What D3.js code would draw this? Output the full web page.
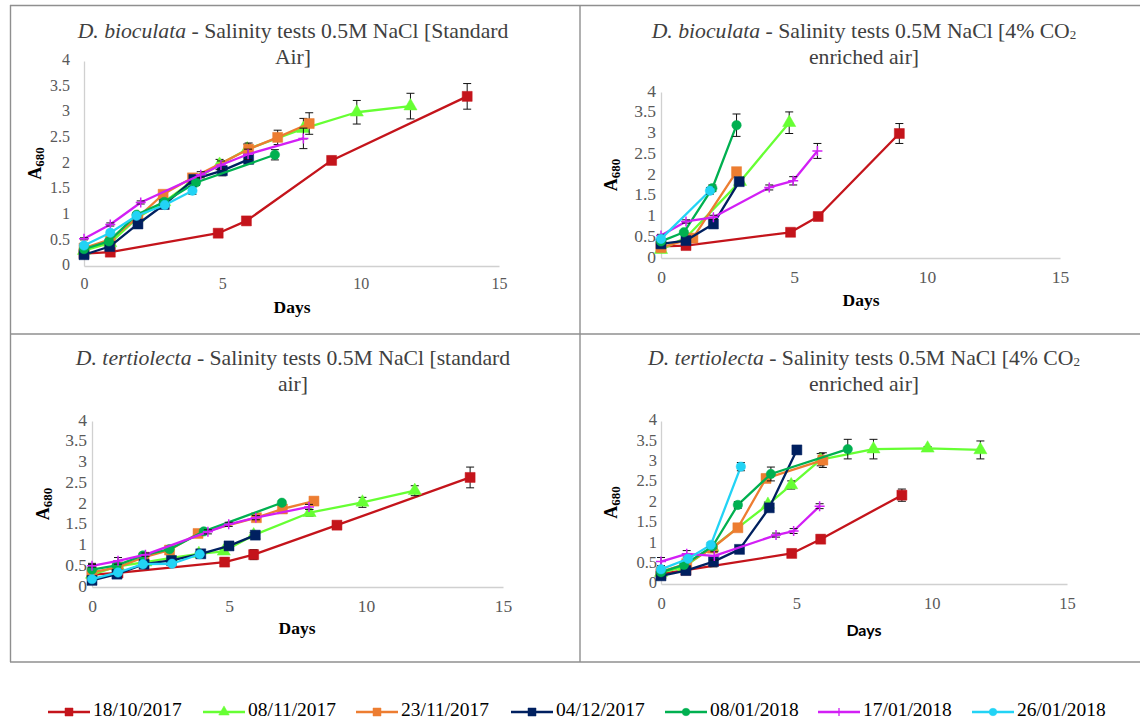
<!DOCTYPE html>
<html><head><meta charset="utf-8">
<script src="https://cdn.jsdelivr.net/npm/d3@7"></script>
<style>body{margin:0;background:#fff}</style>
</head><body><svg id="c" width="1140" height="722"></svg>
<script>
// ---------- DATA ----------
const seriesNames = ["18/10/2017","08/11/2017","23/11/2017","04/12/2017","08/01/2018","17/01/2018","26/01/2018"];
const xTicks = [0, 5, 10, 15];
const yTicks = [0, 0.5, 1, 1.5, 2, 2.5, 3, 3.5, 4];
const xAxisTitle = "Days";
const titleSpecies = ["D. bioculata", "D. bioculata", "D. tertiolecta", "D. tertiolecta"];
const titleLine1 = [" - Salinity tests 0.5M NaCl [Standard", " - Salinity tests 0.5M NaCl [4% CO", " - Salinity tests 0.5M NaCl [standard", " - Salinity tests 0.5M NaCl [4% CO"];
const titleSub = ["", "2", "", "2"];
const titleLine2 = ["Air]", "enriched air]", "air]", "enriched air]"];

// Panel 1: D. bioculata, standard air
const bioStdDays = [
  [0,0.95,4.85,5.87,8.95,13.85],
  [0,0.95,1.95,2.9,3.9,4.9,5.9,7.93,9.86,11.8],
  [0,0.95,1.95,2.86,3.92,5.95,7.0,8.14],
  [0,0.93,1.95,2.9,3.97,5.0,5.95],
  [0,0.9,1.9,2.9,4.05,6.9],
  [0,0.95,2.05,4.22,4.95,5.93,7.93],
  [0,0.95,1.9,2.92,3.92]];
const bioStdA680 = [
  [0.24,0.27,0.64,0.88,2.06,3.31],
  [0.3,0.45,0.95,1.25,1.65,1.98,2.28,2.68,3.0,3.12],
  [0.35,0.52,0.95,1.4,1.72,2.28,2.51,2.78],
  [0.22,0.38,0.82,1.2,1.69,1.86,2.08],
  [0.33,0.48,1.0,1.25,1.63,2.17],
  [0.53,0.81,1.24,1.78,1.97,2.18,2.49],
  [0.4,0.65,0.98,1.19,1.47]];
const bioStdErr = [
  [0.03,0.03,0.04,0.04,0.08,0.25],
  [0.03,0.03,0.04,0.05,0.06,0.1,0.1,0.2,0.23,0.25],
  [0.03,0.03,0.04,0.05,0.05,0.12,0.14,0.21],
  [0.02,0.03,0.04,0.05,0.05,0.1,0.06],
  [0.02,0.03,0.04,0.05,0.06,0.1],
  [0.02,0.03,0.03,0.06,0.08,0.1,0.2],
  [0.02,0.03,0.04,0.05,0.07]];

// Panel 2: D. bioculata, 4% CO2 enriched air
const bioCO2Days = [
  [0,0.94,4.87,5.91,8.96],
  [0,0.95,2.97,4.82],
  [0,1.2,2.84],
  [0,0.94,1.97,2.94],
  [0,0.86,1.93,2.84],
  [0,0.94,1.97,4.07,4.97,5.88],
  [0,1.84]];
const bioCO2A680 = [
  [0.28,0.3,0.62,1.0,3.0],
  [0.2,0.5,1.84,3.26],
  [0.25,0.48,2.08],
  [0.34,0.42,0.82,1.84],
  [0.4,0.62,1.68,3.2],
  [0.54,0.88,0.98,1.7,1.86,2.58],
  [0.46,1.62]];
const bioCO2Err = [
  [0.02,0.03,0.04,0.05,0.24],
  [0.02,0.04,0.08,0.26],
  [0.02,0.04,0.08],
  [0.02,0.03,0.06,0.06],
  [0.02,0.04,0.08,0.27],
  [0.03,0.04,0.05,0.06,0.1,0.18],
  [0.02,0.08]];

// Panel 3: D. tertiolecta, standard air
const terStdDays = [
  [0,0.95,4.84,5.9,8.94,13.8],
  [0,0.95,1.95,2.9,3.9,4.81,5.9,7.94,9.87,11.78],
  [0,0.95,1.9,2.83,3.87,6.0,6.95,8.1],
  [0,0.91,1.9,2.9,3.97,5.0,5.96],
  [0,0.9,1.86,2.83,4.08,6.93],
  [0,0.95,1.95,4.23,4.99,5.98,7.92],
  [0,0.95,1.86,2.92,3.93]];
const terStdA680 = [
  [0.3,0.34,0.6,0.78,1.49,2.64],
  [0.3,0.5,0.6,0.7,0.8,0.86,1.25,1.79,2.04,2.32],
  [0.35,0.48,0.72,0.89,1.29,1.67,1.88,2.07],
  [0.16,0.31,0.55,0.64,0.8,0.99,1.25],
  [0.42,0.52,0.76,0.91,1.34,2.03],
  [0.51,0.63,0.78,1.33,1.51,1.67,1.93],
  [0.19,0.35,0.55,0.56,0.79]];
const terStdErr = [
  [0.02,0.03,0.1,0.12,0.08,0.25],
  [0.02,0.03,0.03,0.04,0.04,0.05,0.06,0.08,0.12,0.12],
  [0.02,0.03,0.03,0.04,0.05,0.05,0.05,0.05],
  [0.02,0.03,0.03,0.04,0.04,0.05,0.05],
  [0.15,0.03,0.04,0.04,0.05,0.05],
  [0.03,0.08,0.04,0.05,0.05,0.05,0.06],
  [0.02,0.03,0.03,0.04,0.04]];

// Panel 4: D. tertiolecta, 4% CO2 enriched air
const terCO2Days = [
  [0,0.92,4.83,5.9,8.9],
  [0,0.85,1.9,3.95,4.81,5.9,7.85,9.85,11.8],
  [0,0.95,1.9,2.84,3.88,5.98],
  [0,0.92,1.94,2.9,4.0,5.02],
  [0,0.85,1.9,2.84,4.06,6.9],
  [0,0.95,1.97,4.25,4.9,5.86],
  [0,1.0,1.84,2.95]];
const terCO2A680 = [
  [0.25,0.34,0.75,1.1,2.18],
  [0.28,0.42,0.9,1.95,2.43,3.05,3.31,3.33,3.29],
  [0.3,0.5,0.88,1.38,2.59,3.04],
  [0.2,0.33,0.55,0.85,1.87,3.29],
  [0.29,0.47,0.92,1.94,2.7,3.31],
  [0.55,0.74,0.69,1.2,1.3,1.91],
  [0.36,0.62,0.96,2.88]];
const terCO2Err = [
  [0.02,0.03,0.1,0.1,0.15],
  [0.02,0.03,0.04,0.06,0.1,0.15,0.24,0.04,0.22],
  [0.02,0.03,0.04,0.05,0.1,0.18],
  [0.02,0.03,0.13,0.04,0.06,0.05],
  [0.02,0.03,0.05,0.08,0.17,0.24],
  [0.1,0.08,0.1,0.05,0.06,0.06],
  [0.02,0.04,0.06,0.1]];

// ---------- STYLES ----------
const colors = ["#C4141B","#66FF33","#ED7D31","#002060","#00B050","#D21FF5","#22D3F5"];
const markerKinds = ["square","triangle","square","square","circle","plus","circle"];

const panels = [
  {days:bioStdDays, vals:bioStdA680, errs:bioStdErr, x0:84,  x1:499,  y0:266, y1:61,  yPad:14, tFont:16,   tx:293, ty1:33,  ty2:59,  xlabY:285, daysY:309, daysX:292, ylabX:37,  sans:false},
  {days:bioCO2Days, vals:bioCO2A680, errs:bioCO2Err, x0:661, x1:1060, y0:258, y1:92,  yPad:5,  tFont:17.5, tx:864, ty1:33,  ty2:59,  xlabY:279, daysY:302, daysX:861, ylabX:613, sans:false},
  {days:terStdDays, vals:terStdA680, errs:terStdErr, x0:92,  x1:503,  y0:587, y1:421, yPad:5,  tFont:17.5, tx:293, ty1:360, ty2:386, xlabY:608, daysY:630, daysX:297, ylabX:45,  sans:false},
  {days:terCO2Days, vals:terCO2A680, errs:terCO2Err, x0:661, x1:1067, y0:584, y1:421, yPad:4,  tFont:16.5, tx:864, ty1:360, ty2:386, xlabY:605, daysY:632, daysX:864, ylabX:613, sans:true}
];

const svg = d3.select("#c");
svg.append("rect").attr("width",1140).attr("height",722).attr("fill","#fff");

// frame lines
const frame = svg.append("g").attr("stroke","#8f8f8f").attr("stroke-width",1.4).attr("fill","none");
[[10,5.5,1140,5.5],[10.5,5,10.5,662],[10,662,1140,662],[580,5,580,662],[10,334,1140,334]]
  .forEach(l => frame.append("line").attr("x1",l[0]).attr("y1",l[1]).attr("x2",l[2]).attr("y2",l[3]));

const serif = "'Liberation Serif','Times New Roman',serif";

function markerPath(kind, s) {
  if (kind === "square") return d3.symbol(d3.symbolSquare, s*s)();
  if (kind === "triangle") return d3.symbol(d3.symbolTriangle, s*s*0.75)();
  if (kind === "circle") return d3.symbol(d3.symbolCircle, s*s*0.7)();
  const h = s/2;
  return `M${-h},0H${h}M0,${-h}V${h}`;
}

panels.forEach((p, pi) => {
  const g = svg.append("g");
  const x = d3.scaleLinear().domain([0,15]).range([p.x0, p.x1]);
  const y = d3.scaleLinear().domain([0,4]).range([p.y0, p.y1]);

  // Title
  const t1 = g.append("text").attr("x", p.tx).attr("y", p.ty1).attr("text-anchor","middle")
    .attr("dominant-baseline","middle").style("font-family", serif).style("font-size","21.7px").attr("fill","#404040");
  t1.append("tspan").style("font-style","italic").text(titleSpecies[pi]);
  t1.append("tspan").text(titleLine1[pi]);
  if (titleSub[pi]) t1.append("tspan").style("font-size","13px").attr("dy",3).text(titleSub[pi]);
  g.append("text").attr("x", p.tx).attr("y", p.ty2).attr("text-anchor","middle")
    .attr("dominant-baseline","middle").style("font-family", serif).style("font-size","21.7px").attr("fill","#404040")
    .text(titleLine2[pi]);

  // Axes
  const ya = g.append("g").attr("transform",`translate(${p.x0},0)`)
    .call(d3.axisLeft(y).tickValues(yTicks).tickSize(0).tickPadding(p.yPad).tickFormat(d3.format("")));
  const xa = g.append("g").attr("transform",`translate(0,${p.y0})`)
    .call(d3.axisBottom(x).tickValues(xTicks).tickSize(0).tickPadding(0).tickFormat(d3.format("")));
  [ya, xa].forEach(a => {
    a.select(".domain").attr("stroke","#d0d0d0").attr("stroke-width",1.3);
    a.selectAll("text").style("font-family", serif).style("font-size", p.tFont+"px").attr("fill","#595959");
  });
  xa.selectAll("text").attr("dy",null).attr("y", p.xlabY - p.y0).attr("dominant-baseline","middle");
  ya.selectAll("text").attr("dy",null).attr("dominant-baseline","middle");

  // Axis titles
  g.append("text").attr("x", p.daysX).attr("y", p.daysY).attr("text-anchor","middle").attr("dominant-baseline","middle")
    .style("font-family", p.sans ? "Lato, 'Liberation Sans', sans-serif" : serif)
    .style("font-size", p.sans ? "16px" : "17.5px").style("font-weight","bold").attr("fill","#000").text(xAxisTitle);
  const yl = g.append("text").attr("transform",`translate(${p.ylabX},${(p.y0+p.y1)/2}) rotate(-90)`)
    .attr("text-anchor","middle").attr("dominant-baseline","middle")
    .style("font-family", serif).style("font-weight","bold").attr("fill","#000");
  yl.append("tspan").style("font-size","18px").text("A");
  yl.append("tspan").style("font-size","13px").attr("dy",4).text("680");

  // Series
  const line = d3.line().x(d => x(d[0])).y(d => y(d[1]));
  seriesNames.forEach((name, si) => {
    const pts = p.days[si].map((d, i) => [d, p.vals[si][i], p.errs[si][i]]);
    const sg = g.append("g");
    sg.append("path").datum(pts).attr("d", line).attr("fill","none")
      .attr("stroke", colors[si]).attr("stroke-width",2.3).attr("stroke-linejoin","round");
    // error bars
    const eb = sg.append("g").attr("stroke","#111").attr("stroke-width",1);
    pts.forEach(d => {
      const cx = x(d[0]), ya1 = y(d[1]+d[2]), ya2 = y(d[1]-d[2]);
      eb.append("line").attr("x1",cx).attr("x2",cx).attr("y1",ya1).attr("y2",ya2);
      eb.append("line").attr("x1",cx-4).attr("x2",cx+4).attr("y1",ya1).attr("y2",ya1);
      eb.append("line").attr("x1",cx-4).attr("x2",cx+4).attr("y1",ya2).attr("y2",ya2);
    });
    const kind = markerKinds[si];
    sg.selectAll("path.m").data(pts).enter().append("path").attr("class","m")
      .attr("transform", d => `translate(${x(d[0])},${y(d[1])})`)
      .attr("d", markerPath(kind, 10))
      .attr("fill", kind === "plus" ? "none" : colors[si])
      .attr("stroke", colors[si]).attr("stroke-width", kind === "plus" ? 1.5 : 0.5);
  });
});

// Legend
const legendX = [48, 203, 356, 511, 665, 818, 972];
const lg = svg.append("g");
seriesNames.forEach((name, si) => {
  const lx = legendX[si], ly = 712;
  lg.append("line").attr("x1", lx).attr("x2", lx+42).attr("y1", ly).attr("y2", ly)
    .attr("stroke", colors[si]).attr("stroke-width", 2.6);
  const kind = markerKinds[si];
  lg.append("path").attr("transform", `translate(${lx+21},${ly})`).attr("d", markerPath(kind, 8))
    .attr("fill", kind === "plus" ? "none" : colors[si]).attr("stroke", colors[si]).attr("stroke-width", kind === "plus" ? 1.3 : 0.5);
  lg.append("text").attr("x", lx+45).attr("y", ly).attr("dominant-baseline","middle")
    .style("font-family", serif).style("font-size","19.5px").attr("fill","#000").text(name);
});
</script></body></html>
